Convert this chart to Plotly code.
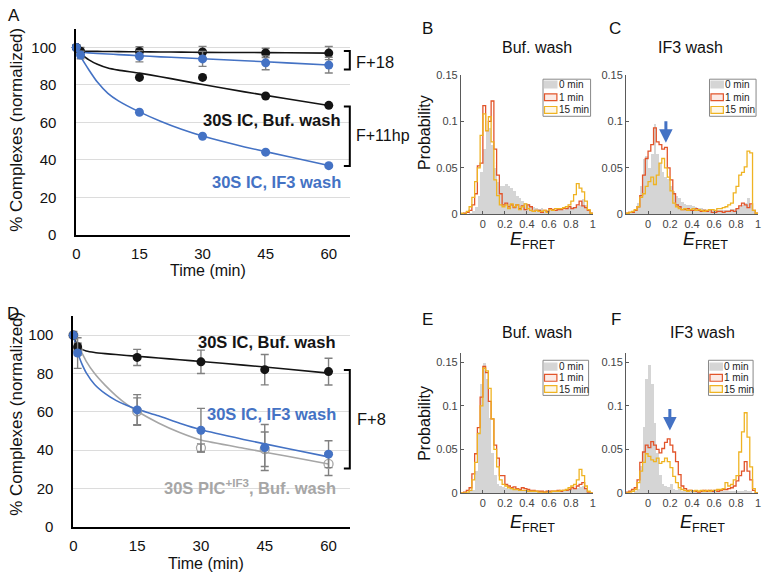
import plotly.graph_objects as go

W, H = 765, 582
def px(x): return x / W
def py(y): return 1 - y / H

FONT = "Arial, 'Liberation Sans', sans-serif"
BLUE = "#4472c4"
BLACK = "#141414"
GRAY = "#a6a6a6"
ERRC = "#808080"
RED = "#e2542a"
YEL = "#efb322"
HGRAY = "#d5d5d5"

# ---------------- Panel A data ----------------
A_T = [0, 1, 15, 30, 45, 60]
A_F18_BUF = [100, 98, 97.9, 97.6, 97.1, 97.0]
A_F18_BUF_ERR = [0, 2, 2.5, 3, 2.5, 3.5]
A_F18_IF3 = [100, 96, 95.3, 93.9, 91.8, 90.6]
A_F18_IF3_ERR = [0, 2, 3, 4, 3.7, 4.2]
A_T2 = [0, 15, 30, 45, 60]
A_F11_BUF = [100, 84.0, 84.0, 74.1, 69.1]
A_F11_IF3 = [100, 65.4, 52.6, 44.1, 36.9]
A_FIT_T = [0, 0.5, 1, 2, 3, 5, 7.5, 10, 15, 20, 25, 30, 40, 50, 60]
A_FIT_F18_BUF = [100, 98.8, 98.2, 98.0, 97.95, 97.9, 97.85, 97.8, 97.7, 97.6, 97.5, 97.4, 97.3, 97.2, 97.0]
A_FIT_F18_IF3 = [100, 98.5, 97.6, 97.3, 97.1, 96.8, 96.5, 96.2, 95.6, 95.0, 94.5, 94.0, 92.9, 91.8, 90.6]
A_FIT_F11_BUF = [100, 98.3, 97, 95, 93.4, 91, 89, 87.9, 86.3, 84.4, 82.3, 80.2, 76.3, 72.6, 69.0]
A_FIT_F11_IF3 = [100, 97.5, 95.3, 91.5, 88.0, 81.5, 75.5, 71.5, 65.6, 60.6, 56.3, 52.7, 46.9, 41.9, 37.0]

# ---------------- Panel D data ----------------
D_T = [0, 1, 15, 30, 45, 60]
D_BUF = [100, 94.0, 88.4, 86.1, 82.0, 81.0]
D_BUF_ERR = [2, 2, 4.2, 6.1, 7.9, 7.0]
D_IF3 = [100, 90.7, 61.0, 50.4, 41.4, 37.9]
D_IF3_ERR = [0, 8, 8, 11.4, 12, 7]
D_PIC = [100, 92.5, 60.3, 41.2, 40.5, 32.8]
D_PIC_ERR = [0, 3, 7, 2, 9, 6]
D_FIT_T = [0, 0.5, 1, 1.5, 2, 3, 5, 7.5, 10, 12.5, 15, 20, 25, 30, 40, 50, 60]
D_FIT_BUF = [100, 96.5, 94.5, 93.3, 92.6, 91.8, 91.0, 90.4, 89.9, 89.4, 89.0, 88.1, 87.2, 86.3, 84.4, 82.4, 80.2]
D_FIT_IF3 = [100, 95, 91, 87.8, 85, 80.5, 74.3, 69.5, 66.0, 63.4, 61.3, 57.9, 54.0, 50.6, 45.6, 41.0, 36.5]
D_FIT_PIC = [100, 97.5, 95, 93, 90.8, 86.5, 80, 73.8, 68.5, 64.0, 60.3, 54.2, 49.2, 45.3, 41.0, 36.9, 32.8]

# ---------------- Histogram data (bin width 0.025, from -0.2 to 1.0) ----------------
EDGES = [round(-0.2 + 0.025 * i, 4) for i in range(49)]
CENTERS = [round(e + 0.0125, 4) for e in EDGES[:-1]]

B_0MIN = [0, 0, 0, 0.001, 0.003, 0.008, 0.02, 0.045,
          0.07, 0.09, 0.093, 0.075, 0.05, 0.035, 0.03, 0.03,
          0.033, 0.03, 0.028, 0.025, 0.02, 0.017, 0.014, 0.012,
          0.011, 0.009, 0.008, 0.007, 0.006, 0.007, 0.005, 0.005,
          0.004, 0.004, 0.004, 0.004, 0.005, 0.005, 0.006, 0.007,
          0.008, 0.008, 0.009, 0.01, 0.016, 0.01, 0.003, 0.001]
B_1MIN = [0, 0.001, 0.002, 0.004, 0.01, 0.022, 0.052, 0.055,
          0.117, 0.09, 0.1, 0.122, 0.07, 0.042, 0.022, 0.01,
          0.012, 0.008, 0.01, 0.007, 0.01, 0.006, 0.009, 0.005,
          0.01, 0.008, 0.003, 0.004, 0.004, 0.002, 0.004, 0.003,
          0.006, 0.005, 0.004, 0.005, 0.005, 0.006, 0.006, 0.008,
          0.006, 0.007, 0.01, 0.014, 0.009, 0.007, 0.004, 0.001]
B_15MIN = [0.001, 0, 0.003, 0.008, 0.018, 0.035, 0.05, 0.085,
           0.108, 0.09, 0.105, 0.078, 0.037, 0.02, 0.01, 0.008,
           0.01, 0.006, 0.011, 0.008, 0.01, 0.005, 0.008, 0.011,
           0.006, 0.004, 0.003, 0.004, 0.003, 0.003, 0.004, 0.002,
           0.005, 0.004, 0.006, 0.006, 0.006, 0.007, 0.008, 0.01,
           0.014, 0.021, 0.033, 0.028, 0.024, 0.014, 0.005, 0.001]

C_0MIN = [0, 0.001, 0.002, 0.004, 0.012, 0.03, 0.06, 0.063,
          0.05, 0.065, 0.097, 0.065, 0.055, 0.045, 0.04, 0.038,
          0.03, 0.025, 0.02, 0.017, 0.013, 0.011, 0.01, 0.01,
          0.009, 0.008, 0.007, 0.007, 0.006, 0.005, 0.005, 0.004,
          0.004, 0.004, 0.004, 0.004, 0.005, 0.005, 0.006, 0.006,
          0.007, 0.008, 0.01, 0.012, 0.017, 0.01, 0.003, 0.001]
C_1MIN = [0.001, 0.002, 0.002, 0.004, 0.008, 0.02, 0.042, 0.06,
          0.068, 0.075, 0.093, 0.078, 0.075, 0.07, 0.072, 0.05,
          0.037, 0.022, 0.01, 0.008, 0.005, 0.005, 0.006, 0.004,
          0.004, 0.006, 0.004, 0.003, 0.004, 0.003, 0.005, 0.002,
          0.002, 0.003, 0.003, 0.002, 0.003, 0.003, 0.004, 0.003,
          0.006, 0.009, 0.012, 0.01, 0.007, 0.011, 0.004, 0.001]
C_15MIN = [0.001, 0.002, 0.003, 0.005, 0.008, 0.018, 0.022, 0.03,
           0.035, 0.04, 0.032, 0.042, 0.055, 0.06, 0.05, 0.04,
           0.025, 0.012, 0.008, 0.006, 0.005, 0.006, 0.004, 0.005,
           0.006, 0.004, 0.005, 0.004, 0.003, 0.004, 0.005, 0.005,
           0.004, 0.006, 0.006, 0.007, 0.008, 0.01, 0.012, 0.023,
           0.03, 0.042, 0.045, 0.051, 0.068, 0.066, 0.004, 0.001]

E_0MIN = [0, 0, 0, 0.001, 0.003, 0.025, 0.07, 0.125,
          0.148, 0.13, 0.085, 0.045, 0.02, 0.01, 0.008, 0.006,
          0.005, 0.004, 0.004, 0.005, 0.003, 0.003, 0.003, 0.002,
          0.003, 0.002, 0.002, 0.002, 0.002, 0.002, 0.002, 0.002,
          0.002, 0.002, 0.002, 0.002, 0.002, 0.003, 0.003, 0.003,
          0.004, 0.004, 0.005, 0.006, 0.008, 0.004, 0.001, 0]
E_1MIN = [0, 0.001, 0.003, 0.006, 0.022, 0.045, 0.075, 0.11,
          0.145, 0.138, 0.105, 0.085, 0.055, 0.04, 0.02, 0.02,
          0.01, 0.008, 0.006, 0.007, 0.005, 0.004, 0.006, 0.005,
          0.004, 0.003, 0.003, 0.002, 0.002, 0.002, 0.001, 0.002,
          0.002, 0.002, 0.002, 0.003, 0.002, 0.003, 0.003, 0.004,
          0.006, 0.005, 0.008, 0.01, 0.012, 0.005, 0.001, 0]
E_15MIN = [0, 0, 0.001, 0.003, 0.015, 0.035, 0.068, 0.1,
           0.143, 0.14, 0.12, 0.085, 0.05, 0.03, 0.015, 0.01,
           0.008, 0.006, 0.005, 0.004, 0.004, 0.003, 0.003, 0.003,
           0.002, 0.002, 0.002, 0.002, 0.001, 0.001, 0.001, 0.001,
           0.001, 0.002, 0.002, 0.002, 0.003, 0.003, 0.004, 0.006,
           0.008, 0.01, 0.015, 0.027, 0.02, 0.008, 0.002, 0]

F_0MIN = [0, 0, 0, 0.001, 0.004, 0.03, 0.075, 0.13,
          0.146, 0.125, 0.08, 0.045, 0.02, 0.01, 0.008, 0.006,
          0.01, 0.004, 0.003, 0.004, 0.002, 0.002, 0.003, 0.001,
          0.002, 0.001, 0.001, 0.001, 0.001, 0.001, 0.001, 0.001,
          0.001, 0.001, 0.001, 0.001, 0.001, 0.001, 0.001, 0.001,
          0.001, 0.002, 0.002, 0.003, 0.002, 0.001, 0, 0]
F_1MIN = [0.001, 0.002, 0.004, 0.006, 0.015, 0.035, 0.047, 0.055,
          0.052, 0.059, 0.055, 0.05, 0.046, 0.051, 0.058, 0.062,
          0.055, 0.047, 0.036, 0.021, 0.008, 0.005, 0.003, 0.003,
          0.002, 0.002, 0.001, 0.002, 0.003, 0.002, 0.003, 0.002,
          0.003, 0.002, 0.003, 0.004, 0.004, 0.005, 0.006, 0.008,
          0.014, 0.02, 0.025, 0.036, 0.025, 0.015, 0.003, 0]
F_15MIN = [0, 0.001, 0.002, 0.004, 0.012, 0.025, 0.035, 0.045,
           0.042, 0.038, 0.036, 0.04, 0.034, 0.036, 0.04, 0.036,
           0.029, 0.019, 0.012, 0.006, 0.004, 0.003, 0.002, 0.003,
           0.002, 0.003, 0.002, 0.003, 0.002, 0.003, 0.002, 0.003,
           0.003, 0.004, 0.004, 0.005, 0.012, 0.008, 0.01, 0.015,
           0.02, 0.047, 0.07, 0.092, 0.064, 0.03, 0.005, 0]

LEGEND_LABELS = ["0 min", "1 min", "15 min"]
X_TIME_TICKS = [0, 15, 30, 45, 60]
Y_PCT_TICKS = [0, 20, 40, 60, 80, 100]
HX_TICKS = [0, 0.2, 0.4, 0.6, 0.8, 1]
HX_TEXT = ["0", "0.2", "0.4", "0.6", "0.8", "1"]
HY_TICKS = [0, 0.05, 0.1, 0.15]
HY_TEXT = ["0", "0.05", "0.1", "0.15"]

fig = go.Figure()

def fitline(x, y, color, ax):
    fig.add_trace(go.Scatter(x=x, y=y, mode="lines", line=dict(color=color, width=1.6, shape="spline", smoothing=0.5),
                             xaxis="x" + ax, yaxis="y" + ax, hoverinfo="skip", cliponaxis=False))

def points(x, y, color, ax, err=None, symbol="circle"):
    kw = {}
    if err is not None:
        kw["error_y"] = dict(type="data", array=err, color=ERRC, thickness=1.4, width=4)
    fig.add_trace(go.Scatter(x=x, y=y, mode="markers", marker=dict(color=color, size=9, symbol=symbol,
                             line=dict(width=1.3 if "open" in symbol else 0, color=color)),
                             xaxis="x" + ax, yaxis="y" + ax, cliponaxis=False, **kw))

# Panel A
fitline(A_FIT_T, A_FIT_F11_BUF, BLACK, "")
fitline(A_FIT_T, A_FIT_F11_IF3, BLUE, "")
fitline(A_FIT_T, A_FIT_F18_BUF, BLACK, "")
fitline(A_FIT_T, A_FIT_F18_IF3, BLUE, "")
points(A_T2, A_F11_BUF, BLACK, "")
points(A_T2, A_F11_IF3, BLUE, "")
points(A_T, A_F18_BUF, BLACK, "", A_F18_BUF_ERR)
points(A_T, A_F18_IF3, BLUE, "", A_F18_IF3_ERR)

# Panel D
fitline(D_FIT_T, D_FIT_PIC, GRAY, "4")
fitline(D_FIT_T, D_FIT_BUF, BLACK, "4")
fitline(D_FIT_T, D_FIT_IF3, BLUE, "4")
points(D_T, D_PIC, GRAY, "4", D_PIC_ERR, symbol="circle-open")
points(D_T, D_BUF, BLACK, "4", D_BUF_ERR)
points(D_T, D_IF3, BLUE, "4", D_IF3_ERR)

def stairs(vals):
    xs = [EDGES[0]] + EDGES + [EDGES[-1]]
    ys = [0] + list(vals) + [vals[-1], 0]
    return xs, ys

def hist(ax, g, r, yv):
    fig.add_trace(go.Bar(x=CENTERS, y=g, width=0.025, marker=dict(color=HGRAY, line=dict(width=0)),
                         xaxis="x" + ax, yaxis="y" + ax, hoverinfo="skip"))
    for vals, col in ((r, RED), (yv, YEL)):
        xs, ys = stairs(vals)
        fig.add_trace(go.Scatter(x=xs, y=ys, mode="lines", line=dict(color=col, width=1.3, shape="hv"),
                                 xaxis="x" + ax, yaxis="y" + ax, hoverinfo="skip"))

hist("2", B_0MIN, B_1MIN, B_15MIN)
hist("3", C_0MIN, C_1MIN, C_15MIN)
hist("5", E_0MIN, E_1MIN, E_15MIN)
hist("6", F_0MIN, F_1MIN, F_15MIN)

def time_xaxis(x0, x1, anchor):
    return dict(domain=[px(x0), px(x1)], range=[0, 65], anchor=anchor, showline=True, linecolor="black",
                linewidth=2, tickvals=X_TIME_TICKS, ticks="", showgrid=False, zeroline=False,
                tickfont=dict(size=15, color="#111"), ticklabelstandoff=4)

def pct_yaxis(y0, y1, anchor):
    return dict(domain=[py(y0), py(y1)], range=[0, 110], anchor=anchor, showline=True, linecolor="black",
                linewidth=2, tickvals=Y_PCT_TICKS, ticks="", showgrid=True, gridcolor="#dcdcdc", gridwidth=1,
                zeroline=False, tickfont=dict(size=15, color="#111"), ticklabelstandoff=15)

def hx(x0, x1, anchor):
    return dict(domain=[px(x0), px(x1)], range=[-0.2, 1.0], anchor=anchor, showline=True, linecolor="#5a5a5a",
                linewidth=1, tickvals=HX_TICKS, ticktext=HX_TEXT, ticks="inside", ticklen=3, tickcolor="#5a5a5a",
                showgrid=False, zeroline=False, tickfont=dict(size=11, color="#444"),
                ticklabeloverflow="allow")

def hy(y0, y1, top, anchor):
    return dict(domain=[py(y0), py(y1)], range=[0, top], anchor=anchor, showline=True, linecolor="#5a5a5a",
                linewidth=1, tickvals=HY_TICKS, ticktext=HY_TEXT, ticks="inside", ticklen=3, tickcolor="#5a5a5a",
                showgrid=False, zeroline=False, tickfont=dict(size=11, color="#444"))

layout = dict(
    width=W, height=H, margin=dict(l=0, r=0, t=0, b=0), paper_bgcolor="white", plot_bgcolor="rgba(0,0,0,0)",
    font=dict(family=FONT, color="#111"), showlegend=False, bargap=0,
    xaxis=time_xaxis(73, 349, "y"), yaxis=pct_yaxis(234.4, 23.3, "x"),
    xaxis4=time_xaxis(70, 349, "y4"), yaxis4=pct_yaxis(533.6, 317.7, "x4"),
    xaxis2=hx(461.1, 594.3, "y2"), yaxis2=hy(213.3, 70.7, 0.15, "x2"),
    xaxis3=hx(627.8, 761, "y3"), yaxis3=hy(213.3, 70.7, 0.15, "x3"),
    xaxis5=hx(461.1, 594.3, "y5"), yaxis5=hy(499, 356, 0.16, "x5"),
    xaxis6=hx(627.8, 761, "y6"), yaxis6=hy(499, 356, 0.16, "x6"),
)
fig.update_layout(**layout)

ann = []
def text(x, y, s, size, color="#111", xanchor="center", bold=False, angle=0):
    if bold:
        s = "<b>" + s + "</b>"
    ann.append(dict(x=px(x), y=py(y), xref="paper", yref="paper", text=s, showarrow=False, xanchor=xanchor,
                    yanchor="middle", textangle=angle, font=dict(size=size, color=color, family=FONT)))

for lt, (x, y) in zip("ABCDEF", [(10, 10), (427, 23), (617, 23), (9, 315), (427, 321), (618, 321)]):
    text(x, y, lt, 17)

text(13, 127, "% Complexes (normalized)", 17, angle=-90)
text(13, 418, "% Complexes (normalized)", 17, angle=-90)
text(206, 271, "Time (min)", 16)
text(204, 571, "Time (min)", 16)

text(342, 117, "30S IC, Buf. wash", 16.5, BLACK, "right", True)
text(342, 180, "30S IC, IF3 wash", 16.5, BLUE, "right", True)
text(337, 344, "30S IC, Buf. wash", 16.5, BLACK, "right", True)
text(337, 418, "30S IC, IF3 wash", 16.5, BLUE, "right", True)
text(337, 493, "30S PIC<sup>+IF3</sup>, Buf. wash", 16.5, GRAY, "right", True)

text(353, 57, "F+18", 16.5, xanchor="left")
text(353, 133, "F+11hp", 16, xanchor="left")
text(354, 423, "F+8", 16.5, xanchor="left")

text(538, 43, "Buf. wash", 16)
text(693, 43, "IF3 wash", 16)
text(538, 335, "Buf. wash", 16)
text(705, 335, "IF3 wash", 16)
text(425, 130, "Probability", 16, angle=-90)
text(425, 428, "Probability", 16, angle=-90)
for (x, y) in [(533, 240), (708, 240), (533, 530), (705, 530)]:
    text(x, y, "<i>E</i><sub>FRET</sub>", 18)

for (x, y) in [(668, 140), (672, 435)]:
    ann.append(dict(x=px(x), y=py(y), xref="paper", yref="paper", text="", showarrow=True, ax=0, ay=-23,
                    arrowhead=2, arrowsize=0.9, arrowwidth=3, arrowcolor=BLUE, standoff=0))

shapes = []
def bracket(x0, x1, y0, y1):
    shapes.append(dict(type="path", xref="paper", yref="paper",
                       path=f"M {px(x0)},{py(y0)} L {px(x1)},{py(y0)} L {px(x1)},{py(y1)} L {px(x0)},{py(y1)}",
                       line=dict(color="black", width=2)))
bracket(343, 349, 46, 65)
bracket(343, 349, 103, 164)
bracket(343, 349, 373, 474)

def legend(x0, x1, y0, y1, rows, sx1, tx):
    shapes.append(dict(type="rect", xref="paper", yref="paper", x0=px(x0), x1=px(x1), y0=py(y0), y1=py(y1),
                       line=dict(color="#888", width=1), fillcolor="white", layer="above"))
    styles = [(HGRAY, HGRAY), ("rgba(226,84,42,0.12)", RED), ("rgba(239,179,34,0.10)", YEL)]
    for (ry, lab, (fc, lc)) in zip(rows, LEGEND_LABELS, styles):
        shapes.append(dict(type="rect", xref="paper", yref="paper", x0=px(x0 + 1.5), x1=px(sx1),
                           y0=py(ry + 3.5), y1=py(ry - 3.5), fillcolor=fc,
                           line=dict(color=lc, width=1.2), layer="above"))
        ann.append(dict(x=px(tx), y=py(ry), xref="paper", yref="paper", text=lab, showarrow=False,
                        xanchor="left", yanchor="middle", font=dict(size=10, color="#222", family=FONT)))

legend(544, 592, 75, 113, [80.5, 93.5, 106.5], 558, 558)
legend(712, 759, 75, 113, [80.5, 93.5, 106.5], 726, 726)
legend(544, 590, 363, 399, [369.5, 381, 392.5], 558, 558)
legend(711, 756, 363, 399, [369.5, 381, 392.5], 725, 725)

fig.update_layout(annotations=ann, shapes=shapes)
fig.write_html("out.html", config={"displayModeBar": False},
               post_script="document.body.style.margin='0';document.body.style.padding='0';")
